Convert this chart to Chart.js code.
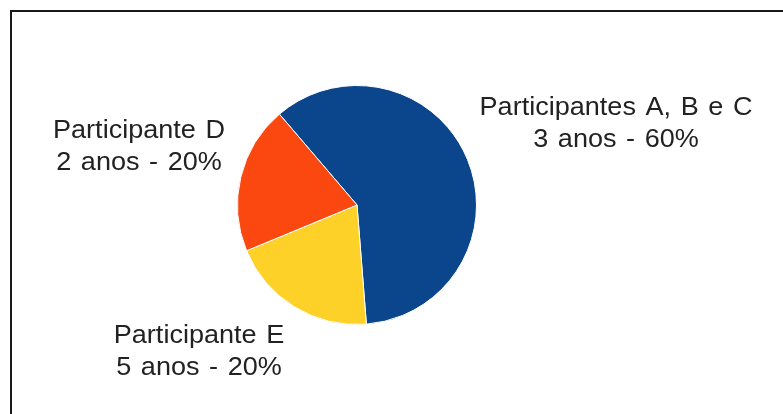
<!DOCTYPE html>
<html>
<head>
<meta charset="utf-8">
<script src="https://cdn.jsdelivr.net/npm/chart.js@4/dist/chart.umd.min.js"></script>
<style>
  html, body { margin: 0; padding: 0; background: #fff; overflow: hidden; }
  #wrap { position: relative; width: 783px; height: 414px; overflow: hidden; }
  #frame {
    position: absolute; left: 10px; top: 10px; width: 900px; height: 500px;
    border-left: 2px solid #1a1a1a; border-top: 2px solid #1a1a1a;
    box-sizing: border-box; pointer-events: none;
  }
  canvas { position: absolute; left: 0; top: 0; }
</style>
</head>
<body>
<div id="wrap">
  <canvas id="chart" width="783" height="414"></canvas>
  <div id="frame"></div>
</div>
<script>
// Distribution of participants by years of participation
const categories = ['Participantes A, B e C', 'Participante E', 'Participante D'];
const years = ['3 anos', '5 anos', '2 anos'];
const shares = [60, 20, 20];
const colors = ['#0B468C', '#FDD128', '#FA4810'];

// Where each two-line caption sits (centre x, first baseline y)
const captionPos = [
  { x: 616, y: 115 },
  { x: 199, y: 343 },
  { x: 139, y: 138 }
];

const captionPlugin = {
  id: 'captions',
  afterDraw(chart) {
    const ctx = chart.ctx;
    ctx.save();
    ctx.fillStyle = '#222';
    ctx.font = '26px "Liberation Sans", Arial, sans-serif';
    ctx.textAlign = 'center';
    ctx.textBaseline = 'alphabetic';
    if ('wordSpacing' in ctx) ctx.wordSpacing = '2px';
    categories.forEach((name, i) => {
      const p = captionPos[i];
      const lines = [name, years[i] + ' - ' + shares[i] + '%'];
      lines.forEach((t, j) => {
        ctx.save();
        ctx.translate(p.x, p.y + j * 32);
        ctx.scale(1.04, 1);
        ctx.fillText(t, 0, 0);
        ctx.restore();
      });
    });
    ctx.restore();
  }
};

new Chart(document.getElementById('chart'), {
  type: 'pie',
  data: {
    labels: categories,
    datasets: [{
      data: shares,
      backgroundColor: colors,
      borderColor: '#ffffff',
      borderWidth: 1
    }]
  },
  options: {
    responsive: false,
    animation: false,
    rotation: -40.5,
    layout: { padding: { left: 237, right: 306, top: 85, bottom: 89 } },
    plugins: {
      legend: { display: false },
      tooltip: { enabled: false }
    }
  },
  plugins: [captionPlugin]
});
</script>
</body>
</html>
